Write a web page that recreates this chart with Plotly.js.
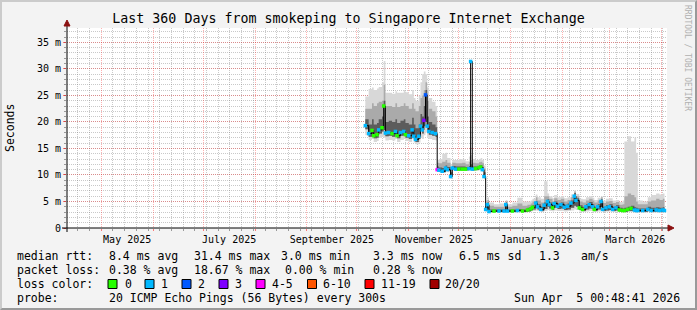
<!DOCTYPE html>
<html><head><meta charset="utf-8">
<script src="https://cdn.plot.ly/plotly-3.0.1.min.js"></script>
<style>
html,body{margin:0;padding:0;background:#f3f3f3;}
#wrap{position:absolute;left:0;top:0;width:693px;height:306px;border-style:solid;border-width:2px;border-color:#cbcbcb #999999 #999999 #cbcbcb;}
#chart{width:693px;height:306px;}
</style></head><body><div id="wrap"><div id="chart"></div></div>
<script>
// ---------- data ----------
const dates = [
 '2025-10-06','2025-10-08','2025-10-10','2025-10-11','2025-10-13','2025-10-14','2025-10-16','2025-10-17','2025-10-18','2025-10-20',
 '2025-10-22','2025-10-24','2025-10-25','2025-10-27','2025-10-29','2025-10-30','2025-11-01','2025-11-03','2025-11-04','2025-11-05',
 '2025-11-07','2025-11-08','2025-11-09','2025-11-10','2025-11-11','2025-11-12','2025-11-13','2025-11-15','2025-11-17',
 '2025-11-18','2025-11-19','2025-11-21','2025-11-23','2025-11-24','2025-11-26','2025-11-27','2025-11-29','2025-12-01','2025-12-03',
 '2025-12-05','2025-12-07','2025-12-08','2025-12-09','2025-12-11','2025-12-13','2025-12-14','2025-12-15','2025-12-16',
 '2025-12-17','2025-12-18','2025-12-19','2025-12-22','2025-12-25','2025-12-28','2025-12-29','2025-12-30','2026-01-02','2026-01-05',
 '2026-01-08','2026-01-11','2026-01-13','2026-01-14','2026-01-16','2026-01-17','2026-01-19','2026-01-21','2026-01-23','2026-01-24',
 '2026-01-26','2026-01-27','2026-01-29','2026-01-31','2026-02-02','2026-02-04','2026-02-06','2026-02-08','2026-02-09','2026-02-11',
 '2026-02-13','2026-02-15','2026-02-17','2026-02-19','2026-02-20','2026-02-22','2026-02-24','2026-02-25','2026-02-27','2026-03-01',
 '2026-03-03','2026-03-05','2026-03-07','2026-03-09','2026-03-10','2026-03-12','2026-03-14','2026-03-16','2026-03-17','2026-03-18',
 '2026-03-21','2026-03-24','2026-03-26','2026-03-29','2026-03-31','2026-04-02','2026-04-03'
];
// median rtt in ms
const medianRtt = [
 19.3,17.8,18.4,17.4,17.6,18.5,18.9,23.0,17.9,18.0,
 17.8,18.2,17.4,18.0,18.2,17.6,17.4,18.5,17.3,16.7,
 17.3,19.2,18.5,20.3,25.1,19.2,18.2,18.0,17.8,
 11.0,10.9,10.7,11.3,11.0,9.7,11.3,11.1,11.1,11.1,
 11.1,11.2,31.4,11.1,11.2,11.4,11.5,11.0,9.7,
 3.5,4.4,3.1,3.2,3.2,3.2,4.4,3.2,3.2,3.3,
 3.2,3.4,3.6,3.9,4.7,4.0,3.5,4.3,5.0,4.4,
 3.8,4.6,4.1,4.4,3.9,4.1,4.7,6.0,5.2,3.8,
 3.5,4.0,4.4,4.0,3.5,4.0,5.0,3.5,3.8,4.0,
 3.5,3.8,3.4,3.3,3.3,3.5,3.7,3.4,3.3,3.3,
 3.3,3.5,3.3,3.4,3.3,3.4,3.3
];
// loss class index: 0 -> "0", 1 -> "1", 2 -> "2", 3 -> "3", 4 -> "4-5"
const lossClass = [
 1,1,0,0,0,1,0,0,1,1,
 0,1,0,1,1,0,1,1,1,1,
 1,1,1,3,2,1,1,1,1,
 4,1,1,1,1,1,1,1,0,0,
 0,1,1,1,0,0,0,1,1,
 1,1,1,0,1,1,1,1,0,1,
 0,0,0,0,1,1,1,1,1,1,
 0,1,1,1,1,1,1,1,1,0,
 0,1,1,1,0,1,1,1,1,1,
 1,1,0,0,0,0,0,1,1,1,
 1,1,1,1,1,1,1
];
const smokeMin = [
 17.5,16.6,16.8,16.2,16.4,17.0,17.2,17.0,16.5,16.6,
 16.5,16.8,16.2,16.6,16.8,16.4,16.2,16.9,16.1,15.8,
 16.1,17.0,16.8,17.5,18.0,17.0,16.8,16.6,16.5,
 10.6,10.5,10.4,10.8,10.5,9.3,10.9,10.8,10.8,10.8,
 10.8,10.8,10.9,10.8,10.8,10.9,11.0,10.6,9.2,
 3.0,3.1,2.9,2.9,2.9,2.9,3.0,2.9,2.9,3.0,
 2.9,3.0,3.1,3.2,3.3,3.2,3.0,3.2,3.4,3.2,
 3.1,3.3,3.2,3.2,3.1,3.2,3.3,3.5,3.4,3.1,
 3.0,3.1,3.2,3.1,3.0,3.1,3.3,3.0,3.1,3.1,
 3.0,3.1,3.0,2.9,2.9,3.0,3.0,2.9,2.9,2.9,
 2.9,3.0,2.9,2.9,2.9,2.9,2.9
];
const smokeQ1 = [
 18.6,17.2,17.6,16.9,17.0,17.8,18.2,18.5,17.3,17.4,
 17.2,17.5,16.9,17.4,17.5,17.0,16.8,17.8,16.7,16.2,
 16.8,18.5,17.8,19.2,20.0,18.5,17.6,17.4,17.2,
 10.8,10.7,10.5,11.0,10.8,9.5,11.1,10.9,10.9,10.9,
 10.9,11.0,11.2,10.9,11.0,11.1,11.2,10.8,9.5,
 3.2,3.5,3.0,3.0,3.0,3.0,3.3,3.0,3.0,3.1,
 3.0,3.1,3.3,3.5,3.8,3.5,3.2,3.6,4.0,3.7,
 3.4,3.8,3.6,3.7,3.4,3.5,3.8,4.2,4.0,3.4,
 3.2,3.5,3.7,3.5,3.2,3.5,3.9,3.2,3.3,3.4,
 3.2,3.3,3.1,3.0,3.0,3.2,3.2,3.1,3.0,3.0,
 3.0,3.2,3.0,3.1,3.0,3.1,3.0
];
const smokeQ3 = [
 20.5,19.5,20.5,19.5,19.8,20.5,21.0,24.0,20.0,20.2,
 20.0,20.5,19.8,20.2,20.5,19.8,19.5,20.8,19.5,18.8,
 19.5,21.5,21.0,23.0,26.0,21.0,20.0,19.5,19.0,
 11.6,11.4,11.3,11.8,11.5,10.5,11.7,11.6,11.6,11.6,
 11.5,11.7,12.0,11.6,11.6,11.8,11.9,11.5,10.5,
 3.9,4.8,3.5,3.5,3.5,3.5,4.8,3.5,3.5,3.6,
 3.5,3.8,4.0,4.3,5.1,4.5,4.0,4.8,5.4,4.8,
 4.3,5.0,4.6,4.8,4.4,4.6,5.2,6.6,5.6,4.3,
 4.0,4.5,4.9,4.5,4.0,4.5,5.4,4.0,4.3,4.5,
 4.0,4.3,3.8,3.7,3.8,4.0,4.2,3.9,3.8,3.7,
 3.7,4.0,3.8,3.9,3.8,3.9,3.8
];
const smokeP90 = [
 22.5,22.5,23.5,23.0,23.5,23.8,24.0,27.0,23.0,23.0,
 22.8,23.5,22.8,23.0,23.5,23.0,22.5,23.5,22.5,22.0,
 23.0,24.5,25.0,26.0,27.5,24.0,22.5,22.0,21.0,
 12.3,12.2,12.5,12.8,12.3,11.5,12.3,12.2,12.2,12.3,
 12.0,12.5,12.8,12.3,12.2,12.4,12.5,12.2,11.2,
 4.6,5.3,4.2,4.0,4.0,4.1,5.0,4.0,4.2,4.6,
 4.2,4.4,4.6,5.0,5.8,5.2,4.8,6.0,6.0,5.5,
 5.0,5.6,5.3,5.5,5.0,5.3,5.8,6.9,6.0,5.0,
 4.8,5.2,5.5,5.2,4.8,5.2,5.8,4.7,5.0,5.1,
 4.7,4.9,4.4,4.5,6.0,6.5,6.2,5.8,5.0,4.5,
 4.5,5.0,5.2,5.5,5.3,5.5,5.0
];
const smokeMax = [
 24.8,26.2,26.5,26.0,26.3,26.6,27.5,31.5,25.5,25.5,
 25.3,25.8,25.5,25.5,26.0,25.6,25.2,26.0,24.5,24.0,
 25.0,27.5,29.0,29.5,29.0,26.5,24.5,23.8,23.0,
 12.8,13.0,14.0,14.2,13.2,12.0,12.8,12.8,13.0,12.9,
 12.6,13.5,13.8,13.0,12.8,13.0,13.2,12.8,11.8,
 5.2,5.8,4.8,4.5,4.6,4.8,5.3,4.5,4.8,5.7,
 5.0,5.0,5.2,5.5,6.3,5.8,5.5,8.8,6.5,6.0,
 5.6,6.2,5.8,6.0,5.6,5.8,6.3,7.1,6.4,5.5,
 5.4,5.8,6.0,5.7,5.3,5.7,6.0,5.2,5.5,5.6,
 5.2,5.3,4.9,5.2,16.3,17.3,16.3,17.0,14.2,5.2,
 5.0,5.8,6.2,6.5,6.3,6.5,6.0
];
const lossLabels = ['0','1','2','3','4-5','6-10','11-19','20/20'];
const lossColors = ['#26ff00','#00b8ff','#0059ff','#7e00ff','#ff00ff','#ff5500','#ff0000','#a10000'];
const yTickVals = [0,5,10,15,20,25,30,35];
const yTickText = ['0','5 m','10 m','15 m','20 m','25 m','30 m','35 m'];
const rttStats = ['8.4 ms avg','31.4 ms max','3.0 ms min','3.3 ms now','6.5 ms sd','1.3','am/s'];
const lossStats = ['0.38 % avg','18.67 % max','0.00 % min','0.28 % now'];
const titleText = 'Last 360 Days from smokeping to Singapore Internet Exchange';
const probeText = '20 ICMP Echo Pings (56 Bytes) every 300s';
const stampText = 'Sun Apr\u00a0\u00a05 00:48:41 2026';

// ---------- layout helpers ----------
const W=693,H=306,ML=65,MT=26,PW=600,PH=200,OFF=2;
const FONT='DejaVu Sans Mono';
function px(x){return (x-OFF-ML)/PW;}
function py(y){return 1-(y-OFF-MT)/PH;}
function txt(s,x,y,extra){
  return Object.assign({text:s,xref:'paper',yref:'paper',x:px(x),y:py(y),xanchor:'left',yanchor:'middle',
    showarrow:false,borderpad:0,font:{family:FONT,size:11.5,color:'#000'}},extra||{});
}

const noHover='skip';
function band(y,fill,color){
  return {x:dates,y:y,type:'scatter',mode:'lines',line:{width:0,shape:'hv'},fill:fill,fillcolor:color,hoverinfo:noHover,showlegend:false};
}
const traces=[
  band(smokeMin,'none',null),
  band(smokeMax,'tonexty','#d8d8d8'),
  band(smokeQ1,'none',null),
  band(smokeP90,'tonexty','#aaaaaa'),
  band(smokeQ1,'none',null),
  band(smokeQ3,'tonexty','#5c5c5c'),
  {x:dates,y:medianRtt,type:'scatter',mode:'lines+markers',line:{color:'#000',width:1,shape:'hv'},
   marker:{symbol:'square',size:3.5,color:lossClass.map(i=>lossColors[i]),line:{width:0}},hoverinfo:noHover,showlegend:false}
];

const rttX=[107.5,193,280,372,458,538,580];
const lossX=[107.5,193,284,372];
const boxX=[108,145,182,219,256,307.5,365,430];
const labX=[123.5,160,197,234,271,322,380,444];

const ann=[];
ann.push(txt('median rtt:',16,256));
rttStats.forEach((s,i)=>ann.push(txt(s,rttX[i],256)));
ann.push(txt('packet loss:',16,270));
lossStats.forEach((s,i)=>ann.push(txt(s,lossX[i],270)));
ann.push(txt('loss color:',16,284));
lossLabels.forEach((s,i)=>ann.push(txt(s,labX[i],284)));
ann.push(txt('probe:',16,298));
ann.push(txt(probeText,107.5,298));
ann.push(txt(stampText,513,298));
ann.push(txt('Seconds',10,128,{xanchor:'center',textangle:-90}));
ann.push(txt('RRDTOOL / TOBI OETIKER',688,58,{xanchor:'center',textangle:90,font:{family:FONT,size:8,color:'#b0b0b0'}}));

const shapes=[];
lossColors.forEach((c,i)=>shapes.push({type:'rect',xref:'paper',yref:'paper',x0:px(boxX[i]),x1:px(boxX[i]+9),y0:py(288.5),y1:py(279.5),
  fillcolor:c,line:{color:'#000',width:1},layer:'above'}));
// axis lines with arrows
shapes.push({type:'line',xref:'paper',yref:'paper',x0:px(62),x1:px(669),y0:py(228),y1:py(228),line:{color:'#000',width:1},layer:'above'});
shapes.push({type:'line',xref:'paper',yref:'paper',x0:px(67),x1:px(67),y0:py(232),y1:py(25),line:{color:'#000',width:1},layer:'above'});
shapes.push({type:'path',xref:'paper',yref:'paper',path:`M ${px(668)} ${py(225)} L ${px(674)} ${py(228)} L ${px(668)} ${py(231)} Z`,
  fillcolor:'#8b1010',line:{color:'#8b1010',width:1},layer:'above'});
shapes.push({type:'path',xref:'paper',yref:'paper',path:`M ${px(64)} ${py(26)} L ${px(67)} ${py(20)} L ${px(70)} ${py(26)} Z`,
  fillcolor:'#8b1010',line:{color:'#8b1010',width:1},layer:'above'});

const majorGrid='rgba(255,0,0,0.3)';
const minorGrid='rgba(120,120,120,0.4)';
const layout={
  width:W,height:H,margin:{l:ML,r:W-ML-PW,t:MT,b:H-MT-PH,pad:0},
  paper_bgcolor:'#f3f3f3',plot_bgcolor:'#ffffff',showlegend:false,
  title:{text:titleText,font:{family:FONT,size:13.3,color:'#000'},x:0.5,xanchor:'center',xref:'container',yref:'container',y:1-16.5/H,yanchor:'middle'},
  xaxis:{type:'date',range:['2025-04-10 12:00:00','2026-04-04 12:00:00'],dtick:'M1',tick0:'2025-05-01',tickformat:'%B %Y',
    ticklabelmode:'period',
    labelalias:{'April 2025':'','June 2025':'','August 2025':'','October 2025':'','December 2025':'','February 2026':'','April 2026':''},
    showgrid:true,gridcolor:majorGrid,griddash:'1px,1px',gridwidth:1,ticks:'outside',ticklen:2,tickcolor:'rgba(255,0,0,0.5)',
    tickfont:{family:FONT,size:10,color:'#000'},showline:false,zeroline:false,fixedrange:true,
    minor:{dtick:7*86400000,tick0:'2025-05-01',showgrid:true,gridcolor:minorGrid,griddash:'1px,1px',ticks:'outside',ticklen:2,tickcolor:'#999'}},
  yaxis:{range:[0,37.71],tickmode:'array',tickvals:yTickVals,ticktext:yTickText,showgrid:true,gridcolor:majorGrid,griddash:'1px,1px',
    ticks:'outside',ticklen:3,tickcolor:'rgba(255,0,0,0.5)',tickfont:{family:FONT,size:10,color:'#000'},showline:false,zeroline:false,fixedrange:true,
    minor:{dtick:1,showgrid:true,gridcolor:minorGrid,griddash:'1px,1px',ticks:'outside',ticklen:2,tickcolor:'#999'}},
  annotations:ann,shapes:shapes
};
Plotly.newPlot('chart',traces,layout,{staticPlot:true,displayModeBar:false});
</script></body></html>
